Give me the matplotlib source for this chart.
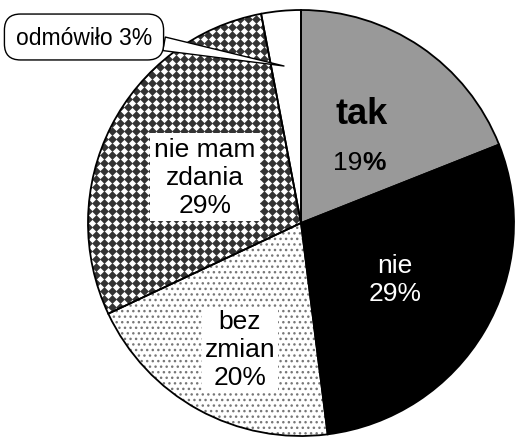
import numpy as np
import matplotlib
matplotlib.use("Agg")
import matplotlib.pyplot as plt

plt.rcParams['font.family'] = ['Liberation Sans', 'DejaVu Sans']
plt.rcParams['hatch.color'] = '#777777'
plt.rcParams['hatch.linewidth'] = 1.0

# data (clockwise from the top)
labels = ['tak', 'nie', 'bez zmian', 'nie mam zdania', 'odmówiło']
shares = [19, 29, 20, 29, 3]
colors = ['#999999', '#000000', '#ffffff', '#ffffff', '#ffffff']
hatches = [None, None, '...', None, None]

W, H = 517, 439
fig = plt.figure(figsize=(W / 100, H / 100), dpi=100)
ax = fig.add_axes([0, 0, 1, 1])

cx, cy, R = 301, H - 224, 213

# fills (no edge, so the hatch keeps rcParams colour)
wedges, _ = ax.pie(shares, colors=colors, startangle=90, counterclock=False,
                   center=(cx, cy), radius=R, wedgeprops=dict(linewidth=0))
for w, h in zip(wedges, hatches):
    if h:
        w.set_hatch(h)

# diamond texture for "nie mam zdania"
gx, gy = np.meshgrid(np.arange(80, 320, 8.0), np.arange(H - 20, H - 330, -8.0))
tex = ax.scatter(gx.ravel(), gy.ravel(), marker='D', s=20, c='#333333',
                 linewidths=0, zorder=2)
tex.set_clip_path(wedges[3])

# outlines
ax.pie(shares, startangle=90, counterclock=False, center=(cx, cy), radius=R,
       wedgeprops=dict(fill=False, edgecolor='black', linewidth=1.3))
for p in ax.patches[len(shares):]:
    p.set_zorder(3)

# labels
ax.text(362, H - 115, 'tak', fontsize=26, fontweight='bold', ha='center', va='center', zorder=5)
ax.text(362, H - 163, '19', fontsize=19, ha='right', va='center', zorder=5)
ax.text(362, H - 163, '%', fontsize=19, fontweight='bold', ha='left', va='center', zorder=5)
ax.text(395, H - 280, 'nie\n29%', fontsize=19, color='white', ha='center', va='center',
        linespacing=1.2, zorder=5)
ax.text(240, H - 350, 'bez\nzmian\n20%', fontsize=19, ha='center', va='center',
        linespacing=1.2, zorder=5,
        bbox=dict(boxstyle='square,pad=0.1', fc='white', ec='none'))
ax.text(205, H - 178, 'nie mam\nzdania\n29%', fontsize=19, ha='center', va='center',
        linespacing=1.2, zorder=5,
        bbox=dict(boxstyle='square,pad=0.15', fc='white', ec='none'))

ax.annotate('odmówiło 3%', xy=(284, H - 67), xytext=(84, H - 38),
            fontsize=16.5, ha='center', va='center', zorder=6,
            bbox=dict(boxstyle='round,pad=0.5,rounding_size=0.7', fc='white', ec='black', lw=1),
            arrowprops=dict(arrowstyle='wedge,tail_width=0.6', fc='white', ec='black', lw=1,
                            shrinkA=0, shrinkB=0, relpos=(1.0, 0.3)))

ax.set_xlim(0, W)
ax.set_ylim(0, H)
ax.set_aspect('auto')
ax.axis('off')

fig.savefig('out.png', dpi=100)
